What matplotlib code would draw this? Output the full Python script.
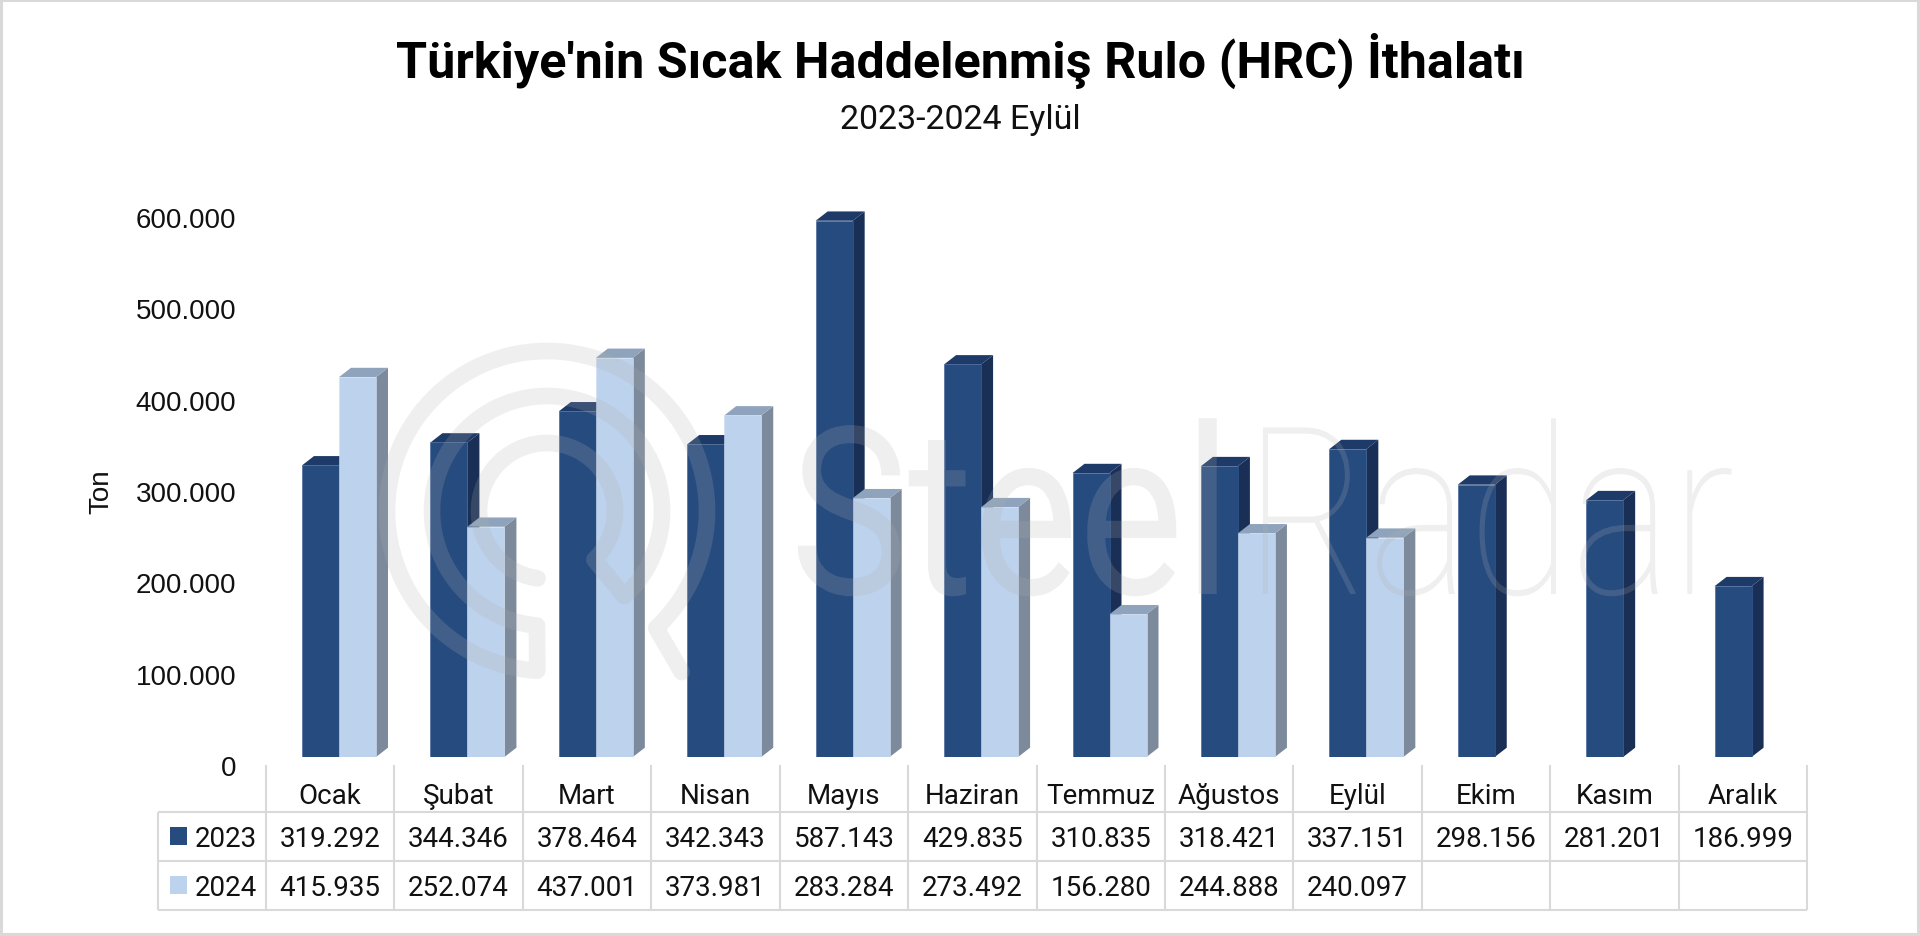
import numpy as np
import matplotlib
matplotlib.use("Agg")
import matplotlib.pyplot as plt
from matplotlib.patches import Rectangle
from matplotlib.patheffects import AbstractPathEffect
from matplotlib.transforms import Affine2D

# Veri
months = ["Ocak", "Şubat", "Mart", "Nisan", "Mayıs", "Haziran", "Temmuz",
          "Ağustos", "Eylül", "Ekim", "Kasım", "Aralık"]
values_2023 = [319292, 344346, 378464, 342343, 587143, 429835, 310835,
               318421, 337151, 298156, 281201, 186999]
values_2024 = [415935, 252074, 437001, 373981, 283284, 273492, 156280,
               244888, 240097, None, None, None]
y_ticks = [0, 100000, 200000, 300000, 400000, 500000, 600000]
y_tick_labels = ["0", "100.000", "200.000", "300.000", "400.000", "500.000", "600.000"]

W, H = 1920, 937
TABLE_FONT = "Roboto"

# Yerlesim (piksel)
plot_left, plot_right = 266, 1807
plot_base, plot_top = 758, 210
col_w = (plot_right - plot_left) / 12
bar_w = 37 / col_w
bar_off = 36 / col_w
depth_x = 12 / col_w
depth_y = 9.3 / (plot_base - plot_top) * 600000


class TallText(AbstractPathEffect):
    # filigran yazisi referansta dar ve uzun, dikeyde geriyoruz
    def __init__(self, sy):
        super().__init__()
        self.sy = sy

    def draw_path(self, renderer, gc, tpath, affine, rgbFace=None):
        renderer.draw_path(gc, tpath, Affine2D().scale(1, self.sy) + affine, rgbFace)


def tr(v):
    return f"{v:,}".replace(",", ".")


def bar_3d(ax, left, value, front, edge, side, top, z):
    right = left + bar_w
    ax.bar(left, value, width=bar_w, align="edge", color=front,
           edgecolor=edge, linewidth=0.4, zorder=z + 1)
    ax.fill([right, right + depth_x, right + depth_x, right],
            [0, depth_y, value + depth_y, value], color=side, lw=0, zorder=z)
    ax.fill([left, left + depth_x, right + depth_x, right],
            [value, value + depth_y, value + depth_y, value], color=top, lw=0, zorder=z)


fig = plt.figure(figsize=(W / 100, H / 100), dpi=100, facecolor="white")
rect = [plot_left / W, 1 - plot_base / H, (plot_right - plot_left) / W, (plot_base - plot_top) / H]
ax = fig.add_axes(rect)
ax.patch.set_alpha(0)
ax.set_xlim(0, 12)
ax.set_ylim(0, 600000)
for s in ax.spines.values():
    s.set_visible(False)
ax.set_yticks([])
ax.set_xticks(np.arange(12) + 0.5)
ax.set_xticklabels(months, family=TABLE_FONT, fontsize=20, color="#111111")
ax.tick_params(axis="x", length=0, pad=18)

for i in range(12):
    # 2024 cubugu 2023'un uzerine biner
    bar_3d(ax, i + bar_off, values_2023[i], "#264B7F", "#3A5E96", "#1A2F55", "#1E3A68", 2)
    if values_2024[i] is not None:
        bar_3d(ax, i + bar_off + bar_w, values_2024[i], "#BDD2ED", "#CFDEF2", "#7C8A9C", "#8FA4BC", 4)

# Y ekseni etiketleri 3B duzlem yuzunden biraz asagida duruyor
ay = fig.add_axes([rect[0], rect[1] - 8 / H, rect[2], rect[3]])
ay.patch.set_alpha(0)
ay.set_ylim(0, 600000)
ay.set_xticks([])
ay.set_yticks(y_ticks)
ay.set_yticklabels(y_tick_labels, family="Liberation Sans", fontsize=20, color="#111111")
ay.tick_params(axis="y", length=0, pad=21.5)
for s in ay.spines.values():
    s.set_visible(False)

# Piksel koordinatli ust katman: cerceve, tablo, yazilar, filigran
ov = fig.add_axes([0, 0, 1, 1], zorder=10)
ov.set_xlim(0, W)
ov.set_ylim(H, 0)
ov.axis("off")
ov.patch.set_alpha(0)

ov.add_patch(Rectangle((1, 1), W - 3, H - 3, fill=False, edgecolor="#D9D9D9", linewidth=2.2))

ov.text(960, 61, "Türkiye'nin Sıcak Haddelenmiş Rulo (HRC) İthalatı", family="Roboto",
        fontweight="bold", fontsize=36.2, ha="center", va="center", color="black")
ov.text(960, 120, "2023-2024 Eylül", family=TABLE_FONT, fontsize=24.5,
        ha="center", va="center", color="#111111")
ov.text(101.5, 492, "Ton", family="Liberation Sans", fontsize=20, rotation=90,
        ha="center", va="center", color="#111111")

# Tablo
grid = "#D9D9D9"
row_lines = [813, 862, 911]
table_left = 158
for y in row_lines:
    ov.plot([table_left, plot_right], [y, y], color=grid, lw=1.5, solid_capstyle="butt")
for i in range(13):
    ov.plot([plot_left + i * col_w] * 2, [766, 911], color=grid, lw=1.5, solid_capstyle="butt")
ov.plot([table_left] * 2, [813, 911], color=grid, lw=1.5, solid_capstyle="butt")

row_y = [837, 886]
for y, name, vals, c in zip(row_y, ["2023", "2024"], [values_2023, values_2024], ["#264B7F", "#BDD2ED"]):
    ov.add_patch(Rectangle((169.5, y - 9), 17.5, 17.5, facecolor=c, edgecolor="none"))
    ov.text(195, y + 2.5, name, family=TABLE_FONT, fontsize=20, ha="left", va="center", color="#111111")
    for i, v in enumerate(vals):
        if v is not None:
            ov.text(plot_left + (i + 0.5) * col_w, y + 2.5, tr(v), family=TABLE_FONT, fontsize=20,
                    ha="center", va="center", color="#111111")

# Filigran: logo spirali + yazi
wm = dict(color="#B0B0B0", alpha=0.2)
cx, cy = 547, 512


def arc(r, a0, a1):
    t = np.radians(np.linspace(a0, a1, 200))
    return cx + r * np.cos(t), cy + r * np.sin(t)


x3, y3 = arc(68, 98, 405.8)
x2, y2 = arc(115, 47.8, -265)
x1, y1 = arc(160, 93.5, 407)
lx = np.concatenate([x3, x2, x1, [681.7]])
ly = np.concatenate([y3, y2, y1, [673]])
ov.plot(lx, ly, lw=12, solid_capstyle="round", solid_joinstyle="round", **wm)

ov.text(790, 595, "Steel", family="Roboto", fontsize=143, ha="left",
        va="baseline", path_effects=[TallText(1.18)], **wm)
ov.text(1245, 595, "Radar", family="Roboto", fontweight="light", fontsize=136, ha="left",
        va="baseline", path_effects=[TallText(1.24)], **wm)

fig.savefig("out.png", dpi=100, facecolor="white")
